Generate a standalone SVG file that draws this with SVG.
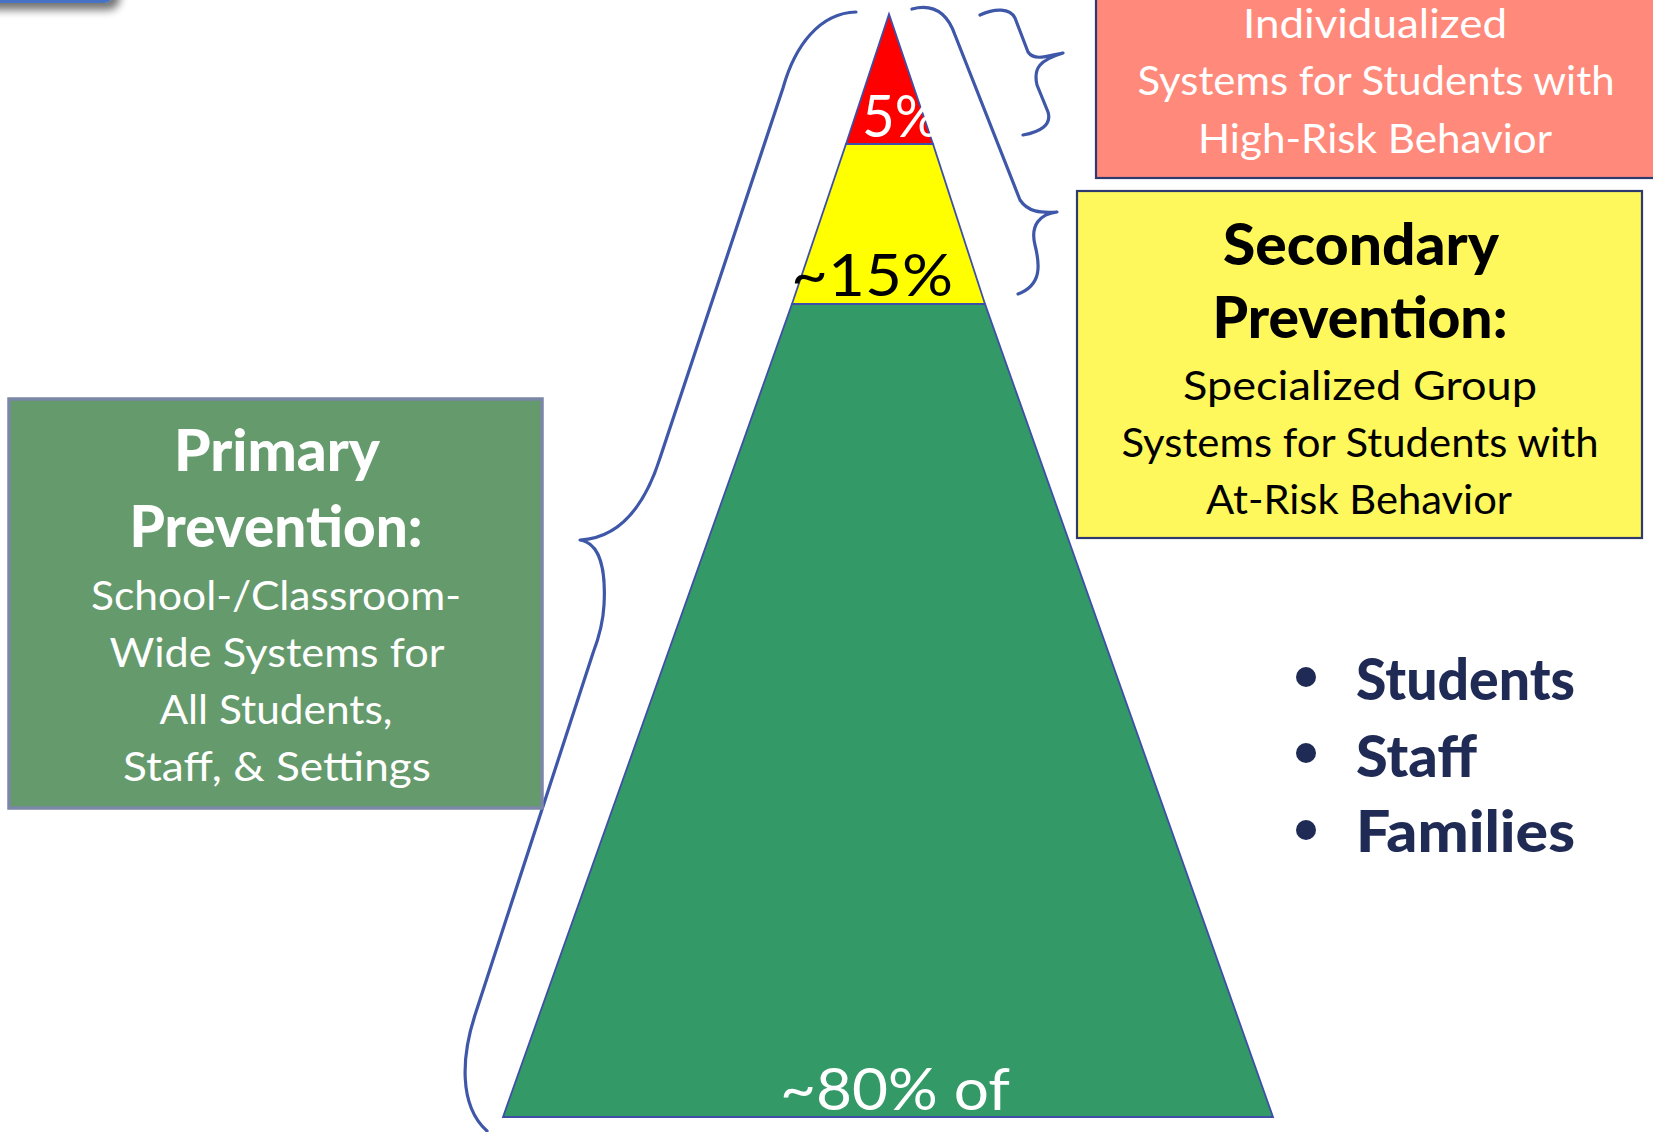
<svg xmlns="http://www.w3.org/2000/svg" width="1653" height="1132" viewBox="0 0 1653 1132">
  <defs>
    <filter id="softShadow" x="-20%" y="-50%" width="150%" height="250%">
      <feGaussianBlur in="SourceAlpha" stdDeviation="4"/>
      <feOffset dx="5" dy="7" result="b"/>
      <feComponentTransfer><feFuncA type="linear" slope="0.55"/></feComponentTransfer>
      <feMerge><feMergeNode/><feMergeNode in="SourceGraphic"/></feMerge>
    </filter>
  </defs>
  <style>
    .tier { stroke: #3F4FA8; stroke-width: 1.8; stroke-linejoin: miter; }
    .brace { fill: none; stroke: #3E57A8; stroke-width: 3.2; stroke-linecap: round; stroke-linejoin: round; }
    .txt { font-family: Lato, "Noto Sans", "DejaVu Sans", sans-serif; text-anchor: middle; }
    .reg { font-size: 41px; font-weight: 400; }
    .head { font-size: 57px; font-weight: 900; }
    .pct { font-size: 58px; font-weight: 400; }
    .white { fill: #FFFFFF; }
    .black { fill: #000000; }
    .navy { fill: #1F2B55; }
    .bullet-txt { font-family: Lato, "Noto Sans", "DejaVu Sans", sans-serif; font-size: 58px; font-weight: 900; fill: #1F2B55; }
  </style>

  <rect width="1653" height="1132" fill="#FFFFFF"/>

  <!-- header tab peeking in at the top-left corner -->
  <g id="header-tab">
    <rect x="-30" y="-60" width="145" height="63" rx="12" fill="#4472C4" filter="url(#softShadow)"/>
  </g>

  <!-- pyramid tiers -->
  <g id="tier-universal">
    <polygon class="tier" fill="#339966" points="792,304 985,304 1273,1117 503,1117"/>
  </g>
  <g id="tier-targeted">
    <polygon class="tier" fill="#FFFF00" points="846,144 933,144 985,304 792,304"/>
  </g>
  <g id="tier-intensive">
    <polygon class="tier" fill="#FF0000" points="889,14 933,144 846,144"/>
  </g>

  <!-- tier percentages -->
  <g id="tier-labels">
    <text class="txt pct white" x="901" y="137" font-size="62" textLength="78" lengthAdjust="spacingAndGlyphs">5%</text>
    <text class="txt pct black" x="872" y="296" textLength="162" lengthAdjust="spacingAndGlyphs">~15%</text>
    <text class="txt pct white" x="895" y="1110" font-size="56" textLength="230" lengthAdjust="spacingAndGlyphs">~80% of</text>
  </g>

  <!-- braces linking the tiers to their descriptions -->
  <g id="connectors">
    <path class="brace" d="M 856,12 C 820,13 795,45 783,88 L 660,458 C 645,505 620,538 580,540 C 600,543 606,570 604,605 C 603,625 598,640 593,653 L 475,1015 C 462,1055 458,1105 487,1131"/>
    <path class="brace" d="M 912,9 C 935,3 948,15 955,35 L 1020,200 C 1028,212 1040,213 1057,212 C 1040,214 1030,225 1035,245 C 1040,265 1042,285 1018,294"/>
    <path class="brace" d="M 980,15 C 995,8 1010,8 1015,18 L 1028,52 C 1035,62 1050,55 1063,53 C 1040,60 1033,68 1037,85 L 1048,112 C 1052,125 1040,132 1023,135"/>
  </g>

  <!-- tertiary prevention box -->
  <g id="box-tertiary">
    <rect x="1096" y="-10" width="600" height="188" fill="#FF8A7C" stroke="#2E3A6E" stroke-width="2.2"/>
    <text class="txt reg white" x="1375" y="38" textLength="264" lengthAdjust="spacingAndGlyphs">Individualized</text>
    <text class="txt reg white" x="1376" y="95" textLength="477" lengthAdjust="spacingAndGlyphs">Systems for Students with</text>
    <text class="txt reg white" x="1375" y="153" textLength="354" lengthAdjust="spacingAndGlyphs">High-Risk Behavior</text>
  </g>

  <!-- secondary prevention box -->
  <g id="box-secondary">
    <rect x="1077" y="191" width="565" height="347" fill="#FFF85C" stroke="#2E3A6E" stroke-width="2.2"/>
    <text class="txt head black" x="1361" y="265" textLength="276" lengthAdjust="spacingAndGlyphs">Secondary</text>
    <text class="txt head black" x="1360" y="338" textLength="295" lengthAdjust="spacingAndGlyphs">Prevention:</text>
    <text class="txt reg black" x="1360" y="400" textLength="354" lengthAdjust="spacingAndGlyphs">Specialized Group</text>
    <text class="txt reg black" x="1360" y="457" textLength="477" lengthAdjust="spacingAndGlyphs">Systems for Students with</text>
    <text class="txt reg black" x="1359" y="514" textLength="306" lengthAdjust="spacingAndGlyphs">At-Risk Behavior</text>
  </g>

  <!-- primary prevention box -->
  <g id="box-primary">
    <rect x="9" y="399" width="533" height="409" fill="#659A6C" stroke="#7B87A6" stroke-width="3.5"/>
    <text class="txt head white" x="277" y="471" textLength="206" lengthAdjust="spacingAndGlyphs">Primary</text>
    <text class="txt head white" x="276" y="547" textLength="293" lengthAdjust="spacingAndGlyphs">Prevention:</text>
    <text class="txt reg white" x="276" y="610" textLength="370" lengthAdjust="spacingAndGlyphs">School-/Classroom-</text>
    <text class="txt reg white" x="277" y="667" textLength="335" lengthAdjust="spacingAndGlyphs">Wide Systems for</text>
    <text class="txt reg white" x="276" y="724" textLength="233" lengthAdjust="spacingAndGlyphs">All Students,</text>
    <text class="txt reg white" x="277" y="781" textLength="308" lengthAdjust="spacingAndGlyphs">Staff, &amp; Settings</text>
  </g>

  <!-- audience list -->
  <g id="audience-list">
    <circle class="navy" cx="1306" cy="677" r="10"/>
    <text class="bullet-txt" x="1356" y="700" textLength="219" lengthAdjust="spacingAndGlyphs">Students</text>
    <circle class="navy" cx="1306" cy="753" r="10"/>
    <text class="bullet-txt" x="1356" y="777" textLength="121" lengthAdjust="spacingAndGlyphs">Staff</text>
    <circle class="navy" cx="1306" cy="830" r="10"/>
    <text class="bullet-txt" x="1356" y="852" textLength="219" lengthAdjust="spacingAndGlyphs">Families</text>
  </g>
</svg>
